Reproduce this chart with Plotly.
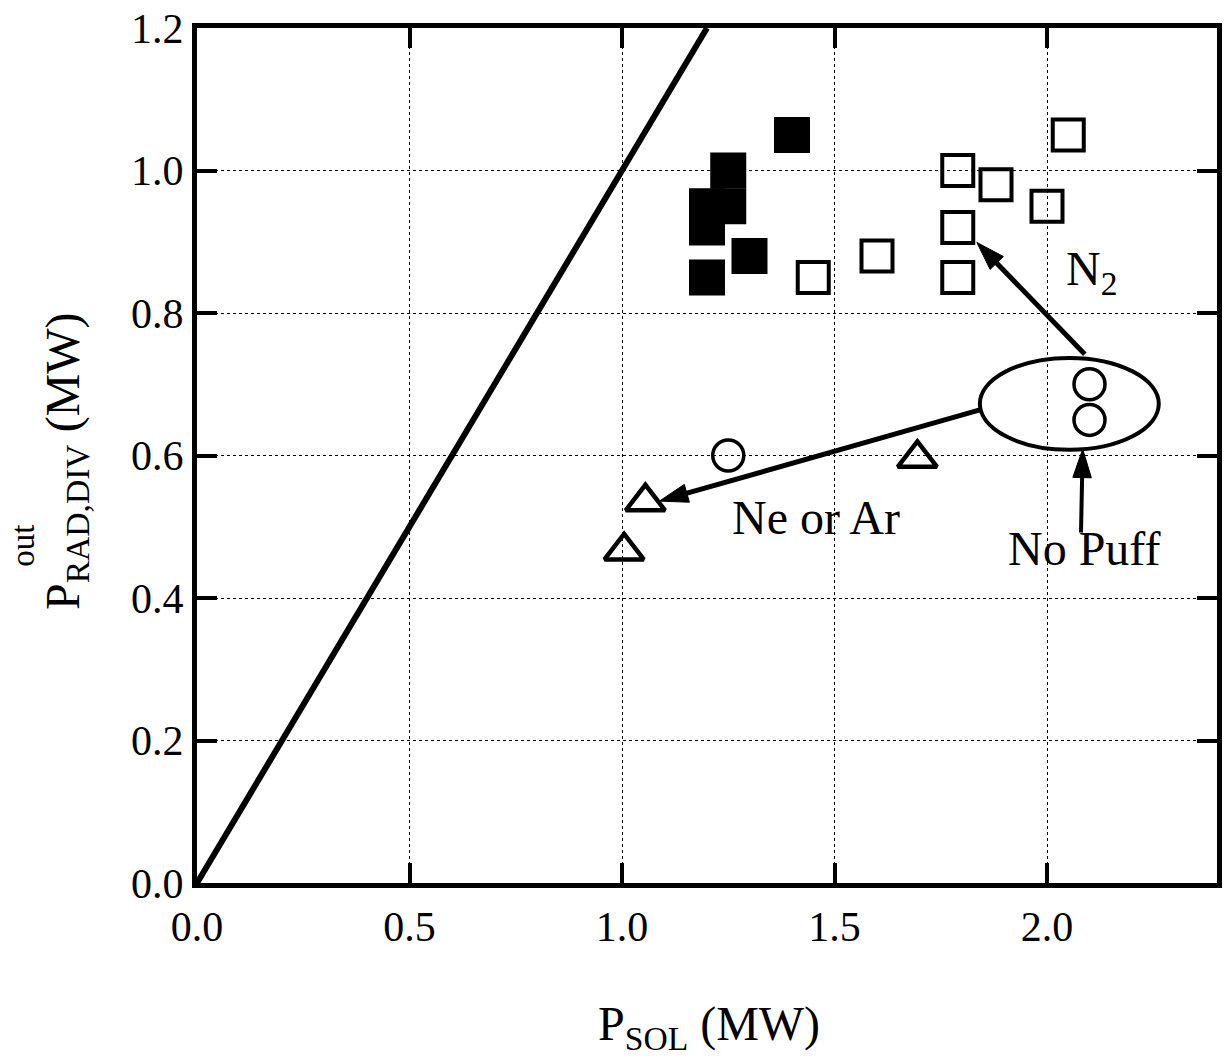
import plotly.graph_objects as go

# ---- data ----
filled_sq_x = [1.40, 1.25, 1.25, 1.20, 1.20, 1.30, 1.20]
filled_sq_y = [1.05, 1.00, 0.95, 0.95, 0.92, 0.88, 0.85]

open_sq_x = [1.45, 1.60, 1.79, 1.88, 2.00, 2.05, 1.79, 1.79]
open_sq_y = [0.85, 0.88, 1.00, 0.98, 0.95, 1.05, 0.92, 0.85]

circle_x = [1.25, 2.10, 2.10]
circle_y = [0.60, 0.70, 0.65]

tri_x = [1.055, 1.005, 1.695]
tri_y = [0.535, 0.466, 0.596]

line_x = [0.0, 1.2]
line_y = [0.0, 1.2]

x_ticks = [0.0, 0.5, 1.0, 1.5, 2.0]
y_ticks = [0.0, 0.2, 0.4, 0.6, 0.8, 1.0, 1.2]

FONT = "Liberation Serif"

fig = go.Figure()

fig.add_trace(go.Scatter(x=line_x, y=line_y, mode="lines",
                         line=dict(color="black", width=6), showlegend=False))

fig.add_trace(go.Scatter(x=open_sq_x, y=open_sq_y, mode="markers",
                         marker=dict(symbol="square-open", size=31, color="black",
                                     line=dict(color="black", width=4)),
                         showlegend=False))
fig.add_trace(go.Scatter(x=filled_sq_x, y=filled_sq_y, mode="markers",
                         marker=dict(symbol="square", size=34, color="black",
                                     line=dict(color="black", width=2)),
                         showlegend=False))
fig.add_trace(go.Scatter(x=circle_x, y=circle_y, mode="markers",
                         marker=dict(symbol="circle-open", size=31, color="black",
                                     line=dict(color="black", width=3.5)),
                         showlegend=False))
fig.add_trace(go.Scatter(x=tri_x, y=tri_y, mode="markers",
                         marker=dict(symbol="triangle-up-open", size=34, color="black",
                                     line=dict(color="black", width=4.5)),
                         showlegend=False))

# ellipse around the "No Puff" points
fig.add_shape(type="circle", xref="x", yref="y",
              x0=1.842, x1=2.263, y0=0.608, y1=0.737,
              line=dict(color="black", width=4))

# arrows (tail -> head) drawn as short line traces with an arrow marker at the head
arrows = [
    dict(x=[1.842, 1.088], y=[0.664, 0.536], w=5),
    dict(x=[2.089, 1.835], y=[0.742, 0.899], w=5),
    dict(x=[2.080, 2.084], y=[0.492, 0.609], w=4),
]
for a in arrows:
    fig.add_trace(go.Scatter(
        x=a["x"], y=a["y"], mode="lines+markers",
        line=dict(color="black", width=a["w"]),
        marker=dict(symbol=["circle", "arrow"], size=[0, 30], color="black",
                    opacity=1, angleref="previous",
                    line=dict(color="black", width=1)),
        showlegend=False, hoverinfo="skip"))

txt_font = dict(family=FONT, size=48, color="black")
fig.add_annotation(x=1.456, y=0.513, xref="x", yref="y", text="Ne or Ar",
                   showarrow=False, font=txt_font)
fig.add_annotation(x=2.087, y=0.470, xref="x", yref="y", text="No Puff",
                   showarrow=False, font=txt_font)
fig.add_annotation(x=2.105, y=0.858, xref="x", yref="y", text="N<sub>2</sub>",
                   showarrow=False, font=txt_font)

# axis titles
fig.add_annotation(xref="paper", yref="paper", x=0.502, y=-0.168,
                   text="P<sub>SOL</sub> (MW)", showarrow=False, font=txt_font,
                   xanchor="center", yanchor="middle")
fig.add_annotation(xref="paper", yref="paper", x=-0.129, y=0.494,
                   text="P<sub>RAD,DIV</sub> (MW)", showarrow=False, font=txt_font,
                   textangle=-90, xanchor="center", yanchor="middle")
fig.add_annotation(xref="paper", yref="paper", x=-0.170, y=0.394,
                   text="out", showarrow=False,
                   font=dict(family=FONT, size=33, color="black"),
                   textangle=-90, xanchor="center", yanchor="middle")

axis_common = dict(
    showline=True, linecolor="black", linewidth=5, mirror="ticks",
    ticks="inside", ticklen=20, tickwidth=4, tickcolor="black",
    showgrid=True, gridcolor="black", gridwidth=1, griddash="dot",
    zeroline=False, tickformat=".1f",
    tickfont=dict(family=FONT, size=42, color="black"),
)

fig.update_xaxes(range=[0, 2.4], tickvals=x_ticks, ticklabelstandoff=3, **axis_common)
fig.update_yaxes(range=[0, 1.2], tickvals=y_ticks, ticklabelstandoff=0, **axis_common)

fig.update_layout(
    width=1228, height=1063,
    margin=dict(l=197, r=6, t=28, b=180),
    plot_bgcolor="white", paper_bgcolor="white",
    font=dict(family=FONT, color="black"),
    showlegend=False,
)

fig.write_html("out.html")
